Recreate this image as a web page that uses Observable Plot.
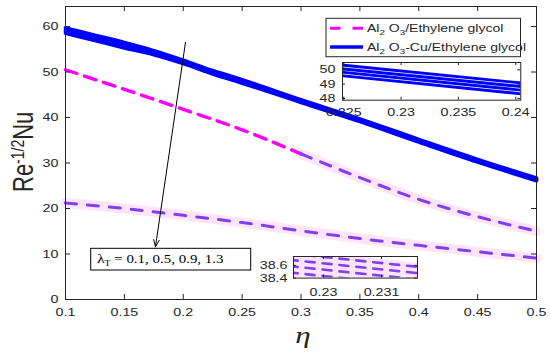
<!DOCTYPE html>
<html><head><meta charset="utf-8">
<script src="https://cdn.jsdelivr.net/npm/d3@7"></script>
<script src="https://cdn.jsdelivr.net/npm/@observablehq/plot@0.6"></script>
<style>
body{margin:0;background:#fff;}
#wrap{position:relative;width:550px;height:352px;overflow:hidden;}
.inset{position:absolute;}
</style></head><body><div id="wrap"></div>
<script>
// ---------- data ----------
const eta = [0.1, 0.125, 0.15, 0.175, 0.2, 0.225, 0.24, 0.25, 0.3, 0.35, 0.4, 0.45, 0.5];
const cuLambda1 = [59.7, 58.1, 56.5, 54.7, 52.6, 50.32, 49.12, 48.3, 43.9, 39.7, 35.2, 30.8, 26.7];
const cuLambda2 = [59.3, 57.7, 56.1, 54.4, 52.35, 50.06, 48.87, 48.05, 43.7, 39.5, 35.0, 30.6, 26.5];
const cuLambda3 = [58.9, 57.3, 55.7, 54.1, 52.1, 49.82, 48.62, 47.8, 43.5, 39.3, 34.8, 30.4, 26.3];
const cuLambda4 = [58.5, 56.9, 55.3, 53.8, 51.85, 49.58, 48.36, 47.55, 43.3, 39.1, 34.6, 30.2, 26.1];

const etaAl = [0.1, 0.15, 0.2, 0.25, 0.3, 0.35, 0.4, 0.45, 0.5];
const alUpper = [50.5, 46.2, 41.8, 37.3, 32.0, 26.8, 22.0, 18.2, 15.0];
const alLower = [21.2, 20.0, 18.5, 16.9, 15.1, 13.4, 11.9, 10.5, 9.1];

const etaZoomLow = [0.2294, 0.2317];
const zoomLow1 = [38.79, 38.57];
const zoomLow2 = [38.69, 38.47];
const zoomLow3 = [38.59, 38.37];
const zoomLow4 = [38.49, 38.27];

const xTicks = [0.1, 0.15, 0.2, 0.25, 0.3, 0.35, 0.4, 0.45, 0.5];
const yTicks = [0, 10, 20, 30, 40, 50, 60];
const insetTopX = [0.225, 0.23, 0.235, 0.24];
const insetTopY = [48, 49, 50];
const insetLowX = [0.23, 0.231];
const insetLowY = [38.4, 38.6];

const legendLabels = [["Al", "2", " O", "3", "/Ethylene glycol"], ["Al", "2", " O", "3", "-Cu/Ethylene glycol"]];
const lambdaLabel = ["λ", "T", " = 0.1, 0.5, 0.9, 1.3"];
const arrowFrom = [0.2019, 56.5];
const arrowTo = [0.1764, 11.6];

// ---------- styles ----------
const BLUE = "#0000ff", MAG = "#ff00ff", PURP = "#8040f0", HALO = "#fde4fa", INK = "#262626";
const SX = 1.3; // horizontal text stretch
const FONT = "'Liberation Sans', Arial, sans-serif";

// ---------- tidy rows ----------
const cuSeries = [cuLambda1, cuLambda2, cuLambda3, cuLambda4];
const cuRows = cuSeries.flatMap((arr, k) => eta.map((e, i) => ({eta: e, v: arr[i], s: k})));
const upRows = etaAl.map((e, i) => ({eta: e, v: alUpper[i]}));
const loRows = etaAl.map((e, i) => ({eta: e, v: alLower[i]}));
const lowSeries = [zoomLow1, zoomLow2, zoomLow3, zoomLow4];
const lowRows = lowSeries.flatMap((arr, k) => etaZoomLow.map((e, i) => ({eta: e, v: arr[i], s: k})));

function stretch(svg, s) {
  d3.select(svg).selectAll("text").each(function () {
    const t = this.getAttribute("transform");
    if (t && t.includes("translate")) this.setAttribute("transform", t + ` scale(${s},1)`);
    else {
      const x = +this.getAttribute("x") || 0, y = +this.getAttribute("y") || 0;
      this.setAttribute("x", 0); this.setAttribute("y", 0);
      this.setAttribute("transform", `translate(${x},${y}) scale(${s},1)`);
    }
  });
}

// ---------- main chart ----------
const W = 550, H = 352, mL = 65, mR = 14, mT = 6, mB = 53;
const pw = W - mL - mR, ph = H - mT - mB;

const chart = Plot.plot({
  width: W, height: H,
  marginLeft: mL, marginRight: mR, marginTop: mT, marginBottom: mB,
  style: {fontFamily: FONT, fontSize: "11px", color: INK, background: "transparent", overflow: "visible"},
  x: {domain: [0.1, 0.5]},
  y: {domain: [0, 64.4]},
  marks: [
    // lower dashed with halo
    Plot.line(loRows, {x: "eta", y: "v", stroke: HALO, strokeWidth: 10, curve: "monotone-x"}),
    Plot.line(loRows, {x: "eta", y: "v", stroke: PURP, strokeWidth: 3, strokeDasharray: "11,11", curve: "monotone-x"}),
    // upper dashed: magenta then purple with halo
    Plot.line(upRows.filter(d => d.eta >= 0.3), {x: "eta", y: "v", stroke: HALO, strokeWidth: 10, curve: "monotone-x"}),
    Plot.line(upRows.filter(d => d.eta <= 0.3), {x: "eta", y: "v", stroke: MAG, strokeWidth: 3.4, strokeDasharray: "12,8", curve: "monotone-x"}),
    Plot.line(upRows.filter(d => d.eta >= 0.3), {x: "eta", y: "v", stroke: PURP, strokeWidth: 3, strokeDasharray: "11,10", curve: "monotone-x"}),
    // blue solid band
    Plot.line(cuRows, {x: "eta", y: "v", z: "s", stroke: BLUE, strokeWidth: 3.6, curve: "monotone-x"}),
    // inward ticks
    Plot.tickX(xTicks, {x: d => d, insetTop: ph - 5, stroke: INK}),
    Plot.tickX(xTicks, {x: d => d, insetBottom: ph - 5, stroke: INK}),
    Plot.tickY(yTicks, {y: d => d, insetRight: pw - 5, stroke: INK}),
    Plot.tickY(yTicks, {y: d => d, insetLeft: pw - 5, stroke: INK}),
    Plot.axisX(xTicks, {tickSize: 0, tickPadding: 9, tickFormat: d => String(d), label: null, fontSize: 11}),
    Plot.axisY(yTicks, {tickSize: 0, tickPadding: 7, tickFormat: d => String(d), label: null, fontSize: 11}),
    Plot.arrow([{x1: arrowFrom[0], y1: arrowFrom[1], x2: arrowTo[0], y2: arrowTo[1]}],
      {x1: "x1", y1: "y1", x2: "x2", y2: "y2", stroke: "black", strokeWidth: 1, headLength: 11, headAngle: 45}),
    Plot.frame({stroke: INK, strokeWidth: 1})
  ]
});
stretch(chart, SX);

const svg = d3.select(chart);

function richText(g, parts, x, y, opts) {
  const t = g.append("text")
    .attr("transform", `translate(${x},${y}) scale(${SX},1)`)
    .attr("text-anchor", "start")
    .attr("font-family", opts.family).attr("font-size", opts.size).attr("fill", opts.fill || INK)
    .attr("font-style", opts.style || "normal");
  parts.forEach((p, i) => {
    const sub = i % 2 === 1;
    const ts = t.append("tspan").text(p);
    if (sub) ts.attr("font-size", opts.subSize).attr("dy", opts.subShift);
    else if (i > 0) ts.attr("dy", -opts.subShift);
  });
  return t;
}

// legend
const lg = svg.append("g");
lg.append("rect").attr("x", 326).attr("y", 18.3).attr("width", 194.5).attr("height", 38.4)
  .attr("fill", "white").attr("stroke", INK).attr("stroke-width", 1);
lg.append("line").attr("x1", 330).attr("x2", 363).attr("y1", 28.3).attr("y2", 28.3)
  .attr("stroke", MAG).attr("stroke-width", 3).attr("stroke-dasharray", "10.5,12");
lg.append("line").attr("x1", 330).attr("x2", 363).attr("y1", 47).attr("y2", 47)
  .attr("stroke", BLUE).attr("stroke-width", 3.5);
richText(lg, legendLabels[0], 367, 32.2, {family: FONT, size: 10.8, subSize: 7.5, subShift: 3});
richText(lg, legendLabels[1], 367, 50.8, {family: FONT, size: 10.8, subSize: 7.5, subShift: 3});

// lambda box
const lb = svg.append("g");
lb.append("rect").attr("x", 90.7).attr("y", 248.3).attr("width", 160).attr("height", 21.7)
  .attr("fill", "white").attr("stroke", "black").attr("stroke-width", 1);
richText(lb, lambdaLabel, 97.3, 263.2, {family: "'Liberation Serif', 'Times New Roman', serif", size: 11.5, subSize: 7.5, subShift: 2.5, fill: "black"});

// y label
const yl = svg.append("text")
  .attr("transform", `translate(33,192) scale(${SX},1) rotate(-90)`)
  .attr("text-anchor", "start")
  .attr("font-family", FONT).attr("font-size", 22).attr("fill", INK);
yl.append("tspan").text("Re");
yl.append("tspan").text("-1/2").attr("font-size", 14).attr("dy", -7);
yl.append("tspan").text("Nu").attr("dy", 7);

// x label
svg.append("text")
  .attr("transform", `translate(303,343) scale(${SX},1)`)
  .attr("text-anchor", "middle")
  .attr("font-family", "'Liberation Serif', 'Times New Roman', serif").attr("font-style", "italic")
  .attr("font-size", 24).attr("fill", INK).text("η");

document.getElementById("wrap").appendChild(chart);

// ---------- inset 1 (blue band zoom) ----------
{
  const L = 24, R = 2, T = 2, B = 18, bw = 178.3, bh = 37.7;
  const p = Plot.plot({
    width: bw + L + R, height: bh + T + B,
    marginLeft: L, marginRight: R, marginTop: T, marginBottom: B,
    style: {fontFamily: FONT, fontSize: "11px", color: INK, background: "transparent", overflow: "visible"},
    x: {domain: [0.22489, 0.24044]},
    y: {domain: [47.88, 50.51]},
    marks: [
      Plot.frame({fill: "white", stroke: "none"}),
      Plot.line(cuRows, {x: "eta", y: "v", z: "s", stroke: BLUE, strokeWidth: 2.9, clip: true}),
      Plot.tickX(insetTopX, {x: d => d, insetTop: bh - 3, stroke: INK}),
      Plot.tickX(insetTopX, {x: d => d, insetBottom: bh - 3, stroke: INK}),
      Plot.tickY(insetTopY, {y: d => d, insetRight: bw - 3, stroke: INK}),
      Plot.tickY(insetTopY, {y: d => d, insetLeft: bw - 3, stroke: INK}),
      Plot.axisX(insetTopX, {tickSize: 0, tickPadding: 8, tickFormat: d => String(d), label: null, fontSize: 11}),
      Plot.axisY(insetTopY, {tickSize: 0, tickPadding: 7, tickFormat: d => String(d), label: null, fontSize: 11}),
      Plot.frame({stroke: INK})
    ]
  });
  stretch(p, SX);
  const d = document.createElement("div");
  d.className = "inset"; d.style.left = (341.7 - L) + "px"; d.style.top = (62 - T) + "px";
  d.appendChild(p);
  document.getElementById("wrap").appendChild(d);
}

// ---------- inset 2 (dashed zoom) ----------
{
  const L = 30, R = 2, T = 2, B = 20, bw = 124, bh = 21.6;
  const p = Plot.plot({
    width: bw + L + R, height: bh + T + B,
    marginLeft: L, marginRight: R, marginTop: T, marginBottom: B,
    style: {fontFamily: FONT, fontSize: "11px", color: INK, background: "transparent", overflow: "visible"},
    x: {domain: [0.229483, 0.23162]},
    y: {domain: [38.4, 38.74]},
    marks: [
      Plot.frame({fill: "white", stroke: "none"}),
      Plot.line(lowRows, {x: "eta", y: "v", z: "s", stroke: HALO, strokeWidth: 8, clip: true}),
      Plot.line(lowRows, {x: "eta", y: "v", z: "s", stroke: PURP, strokeWidth: 2.6, strokeDasharray: "9,8", clip: true}),
      Plot.tickX(insetLowX, {x: d => d, insetTop: bh - 3, stroke: INK}),
      Plot.tickX(insetLowX, {x: d => d, insetBottom: bh - 3, stroke: INK}),
      Plot.tickY(insetLowY, {y: d => d, insetRight: bw - 3, stroke: INK}),
      Plot.tickY(insetLowY, {y: d => d, insetLeft: bw - 3, stroke: INK}),
      Plot.axisX(insetLowX, {tickSize: 0, tickPadding: 10, tickFormat: d => String(d), label: null, fontSize: 11}),
      Plot.axisY(insetLowY, {tickSize: 0, tickPadding: 6, tickFormat: d => d.toFixed(1), label: null, fontSize: 11}),
      Plot.frame({stroke: INK})
    ]
  });
  stretch(p, SX);
  const d = document.createElement("div");
  d.className = "inset"; d.style.left = (293 - L) + "px"; d.style.top = (255.7 - T) + "px";
  d.appendChild(p);
  document.getElementById("wrap").appendChild(d);
}
</script>
</body></html>
